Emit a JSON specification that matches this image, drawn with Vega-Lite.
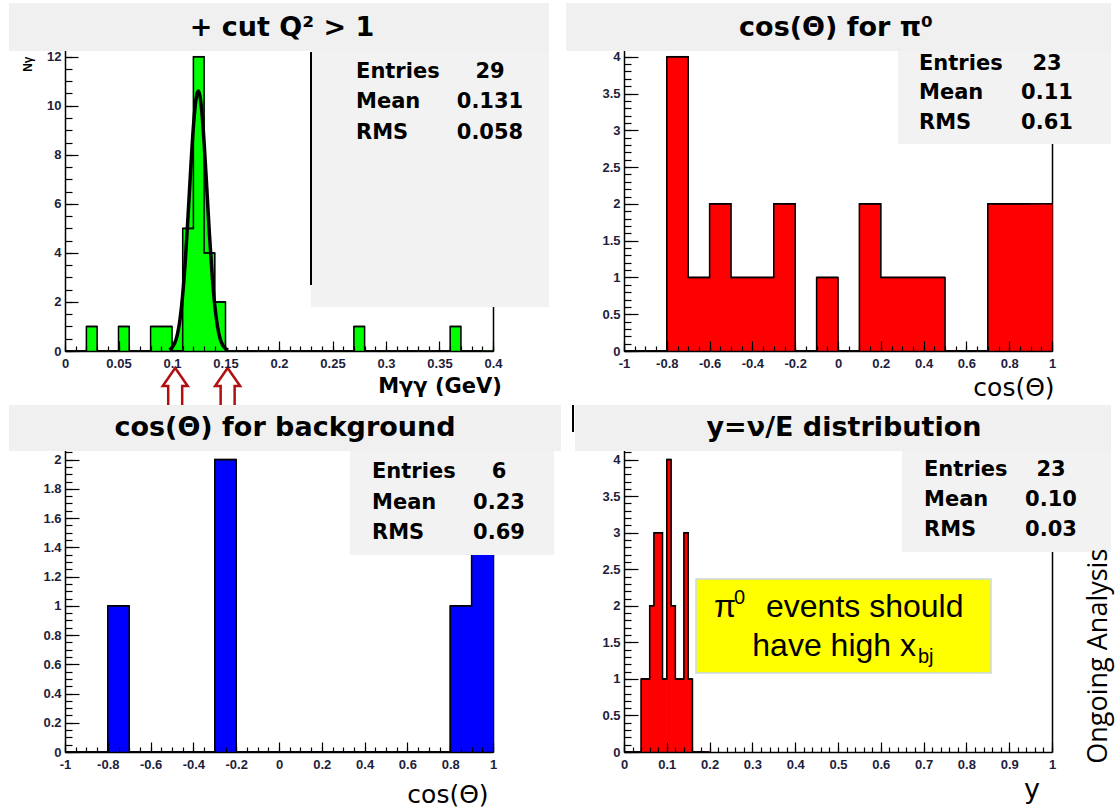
{
"$schema": "https://vega.github.io/schema/vega-lite/v6.json",
"background": "white",
"padding": {"left": 8, "top": 3, "right": 4, "bottom": 4},
"datasets": {
"tl_hist": [{"lo":0,"hi":0.01,"n":0},{"lo":0.01,"hi":0.02,"n":0},{"lo":0.02,"hi":0.03,"n":1},{"lo":0.03,"hi":0.04,"n":0},{"lo":0.04,"hi":0.05,"n":0},{"lo":0.05,"hi":0.06,"n":1},{"lo":0.06,"hi":0.07,"n":0},{"lo":0.07,"hi":0.08,"n":0},{"lo":0.08,"hi":0.09,"n":1},{"lo":0.09,"hi":0.1,"n":1},{"lo":0.1,"hi":0.11,"n":0},{"lo":0.11,"hi":0.12,"n":5},{"lo":0.12,"hi":0.13,"n":12},{"lo":0.13,"hi":0.14,"n":4},{"lo":0.14,"hi":0.15,"n":2},{"lo":0.15,"hi":0.16,"n":0},{"lo":0.16,"hi":0.17,"n":0},{"lo":0.17,"hi":0.18,"n":0},{"lo":0.18,"hi":0.19,"n":0},{"lo":0.19,"hi":0.2,"n":0},{"lo":0.2,"hi":0.21,"n":0},{"lo":0.21,"hi":0.22,"n":0},{"lo":0.22,"hi":0.23,"n":0},{"lo":0.23,"hi":0.24,"n":0},{"lo":0.24,"hi":0.25,"n":0},{"lo":0.25,"hi":0.26,"n":0},{"lo":0.26,"hi":0.27,"n":0},{"lo":0.27,"hi":0.28,"n":1},{"lo":0.28,"hi":0.29,"n":0},{"lo":0.29,"hi":0.3,"n":0},{"lo":0.3,"hi":0.31,"n":0},{"lo":0.31,"hi":0.32,"n":0},{"lo":0.32,"hi":0.33,"n":0},{"lo":0.33,"hi":0.34,"n":0},{"lo":0.34,"hi":0.35,"n":0},{"lo":0.35,"hi":0.36,"n":0},{"lo":0.36,"hi":0.37,"n":1},{"lo":0.37,"hi":0.38,"n":0},{"lo":0.38,"hi":0.39,"n":0},{"lo":0.39,"hi":0.4,"n":0}],
"tl_fit": [{"m":0.0975,"n":0.05},{"m":0.1,"n":0.14},{"m":0.1025,"n":0.32},{"m":0.105,"n":0.67},{"m":0.1075,"n":1.3},{"m":0.11,"n":2.3},{"m":0.1125,"n":3.73},{"m":0.115,"n":5.51},{"m":0.1175,"n":7.43},{"m":0.12,"n":9.15},{"m":0.1225,"n":10.3},{"m":0.1245,"n":10.6},{"m":0.1275,"n":9.93},{"m":0.13,"n":8.51},{"m":0.1325,"n":6.66},{"m":0.135,"n":4.76},{"m":0.1375,"n":3.11},{"m":0.14,"n":1.85},{"m":0.1425,"n":1.01},{"m":0.145,"n":0.5},{"m":0.1475,"n":0.23},{"m":0.15,"n":0.1},{"m":0.1525,"n":0.04}],
"tl_cuts": [{"cut":0.103},{"cut":0.152}],
"tr_hist": [{"lo":-1,"hi":-0.9,"n":0},{"lo":-0.9,"hi":-0.8,"n":0},{"lo":-0.8,"hi":-0.7,"n":4},{"lo":-0.7,"hi":-0.6,"n":1},{"lo":-0.6,"hi":-0.5,"n":2},{"lo":-0.5,"hi":-0.4,"n":1},{"lo":-0.4,"hi":-0.3,"n":1},{"lo":-0.3,"hi":-0.2,"n":2},{"lo":-0.2,"hi":-0.1,"n":0},{"lo":-0.1,"hi":0,"n":1},{"lo":0,"hi":0.1,"n":0},{"lo":0.1,"hi":0.2,"n":2},{"lo":0.2,"hi":0.3,"n":1},{"lo":0.3,"hi":0.4,"n":1},{"lo":0.4,"hi":0.5,"n":1},{"lo":0.5,"hi":0.6,"n":0},{"lo":0.6,"hi":0.7,"n":0},{"lo":0.7,"hi":0.8,"n":2},{"lo":0.8,"hi":0.9,"n":2},{"lo":0.9,"hi":1,"n":2}],
"bl_hist": [{"lo":-1,"hi":-0.9,"n":0},{"lo":-0.9,"hi":-0.8,"n":0},{"lo":-0.8,"hi":-0.7,"n":1},{"lo":-0.7,"hi":-0.6,"n":0},{"lo":-0.6,"hi":-0.5,"n":0},{"lo":-0.5,"hi":-0.4,"n":0},{"lo":-0.4,"hi":-0.3,"n":0},{"lo":-0.3,"hi":-0.2,"n":2},{"lo":-0.2,"hi":-0.1,"n":0},{"lo":-0.1,"hi":0,"n":0},{"lo":0,"hi":0.1,"n":0},{"lo":0.1,"hi":0.2,"n":0},{"lo":0.2,"hi":0.3,"n":0},{"lo":0.3,"hi":0.4,"n":0},{"lo":0.4,"hi":0.5,"n":0},{"lo":0.5,"hi":0.6,"n":0},{"lo":0.6,"hi":0.7,"n":0},{"lo":0.7,"hi":0.8,"n":0},{"lo":0.8,"hi":0.9,"n":1},{"lo":0.9,"hi":1,"n":2}],
"br_hist": [{"lo":0,"hi":0.01,"n":0},{"lo":0.01,"hi":0.02,"n":0},{"lo":0.02,"hi":0.03,"n":0},{"lo":0.03,"hi":0.04,"n":0},{"lo":0.04,"hi":0.05,"n":1},{"lo":0.05,"hi":0.06,"n":1},{"lo":0.06,"hi":0.07,"n":2},{"lo":0.07,"hi":0.08,"n":3},{"lo":0.08,"hi":0.09,"n":3},{"lo":0.09,"hi":0.1,"n":1},{"lo":0.1,"hi":0.11,"n":4},{"lo":0.11,"hi":0.12,"n":2},{"lo":0.12,"hi":0.13,"n":1},{"lo":0.13,"hi":0.14,"n":1},{"lo":0.14,"hi":0.15,"n":3},{"lo":0.15,"hi":0.16,"n":1},{"lo":0.16,"hi":0.17,"n":0},{"lo":0.17,"hi":0.18,"n":0},{"lo":0.18,"hi":0.19,"n":0},{"lo":0.19,"hi":0.2,"n":0}]
},
"columns": 2,
"spacing": {"row": 94, "column": 131},
"bounds": "flush",
"concat": [
{
"width": 428, "height": 309,
"resolve": {"axis": {"x": "independent", "y": "independent"}},
"layer": [
 {"data": {"name": "tl_fit"}, "mark": {"type": "area", "color": "#00ff00", "interpolate": "monotone"},
  "encoding": {"x": {"field": "m", "type": "quantitative", "scale": {"domain": [0, 0.4], "nice": false, "zero": false}, "axis": null},
   "y": {"field": "n", "type": "quantitative", "scale": {"domain": [0, 12.6], "nice": false, "zero": false}, "axis": null}}},
 {"data": {"name": "tl_hist"}, "mark": {"type": "rect", "color": "#00ff00", "stroke": "#00ff00", "strokeWidth": 1},
  "encoding": {"x": {"field": "lo", "type": "quantitative", "scale": {"domain": [0, 0.4], "nice": false, "zero": false},
     "axis": {"orient": "bottom", "values": [0,0.05,0.1,0.15,0.2,0.25,0.3,0.35,0.4], "format": "~g", "tickSize": -10, "labelPadding": 16, "title": null, "zindex": 1}},
   "x2": {"field": "hi"},
   "y": {"field": "n", "type": "quantitative", "scale": {"domain": [0, 12.6], "nice": false, "zero": false},
     "axis": {"orient": "left", "values": [0,2,4,6,8,10,12], "format": "~g", "tickSize": -13, "labelPadding": 17, "title": "Nγ", "titleFont": "Liberation Sans", "titleFontWeight": "bold", "titleFontSize": 12, "titleAnchor": "end", "titleAlign": "right", "titleY": 14, "titlePadding": 12, "zindex": 0}},
   "y2": {"datum": 0}}},
 {"data": {"name": "tl_hist"}, "mark": {"type": "line", "color": "#000000", "strokeWidth": 1.5, "interpolate": "step-after"},
  "encoding": {"x": {"field": "lo", "type": "quantitative", "scale": {"domain": [0, 0.4], "nice": false, "zero": false},
     "axis": {"orient": "bottom", "values": [0,0.01,0.02,0.03,0.04,0.05,0.06,0.07,0.08,0.09,0.1,0.11,0.12,0.13,0.14,0.15,0.16,0.17,0.18,0.19,0.2,0.21,0.22,0.23,0.24,0.25,0.26,0.27,0.28,0.29,0.3,0.31,0.32,0.33,0.34,0.35,0.36,0.37,0.38,0.39,0.4], "labels": false, "domain": false, "tickSize": -5, "title": null, "zindex": 1}},
   "y": {"field": "n", "type": "quantitative", "scale": {"domain": [0, 12.6], "nice": false, "zero": false},
     "axis": {"orient": "left", "values": [0,0.5,1,1.5,2,2.5,3,3.5,4,4.5,5,5.5,6,6.5,7,7.5,8,8.5,9,9.5,10,10.5,11,11.5,12,12.5], "labels": false, "domain": false, "tickSize": -7, "title": null, "zindex": 0}}}},
 {"data": {"name": "tl_hist"}, "mark": {"type": "rule", "color": "#000000", "strokeWidth": 1.5},
  "encoding": {"x": {"field": "lo", "type": "quantitative", "scale": {"domain": [0, 0.4], "nice": false, "zero": false}, "axis": null},
   "x2": {"field": "hi"},
   "y": {"field": "n", "type": "quantitative", "scale": {"domain": [0, 12.6], "nice": false, "zero": false},
     "axis": {"orient": "right", "labels": false, "ticks": false, "domain": true, "title": null, "zindex": 0}}}},
 {"data": {"name": "tl_fit"}, "mark": {"type": "line", "color": "#000000", "strokeWidth": 3.5, "interpolate": "monotone"},
  "encoding": {"x": {"field": "m", "type": "quantitative", "scale": {"domain": [0, 0.4], "nice": false, "zero": false}, "axis": null},
   "y": {"field": "n", "type": "quantitative", "scale": {"domain": [0, 12.6], "nice": false, "zero": false}, "axis": null}}},
 {"data": {"values": [{}]}, "mark": {"type": "rect", "color": "#f2f2f2"},
  "encoding": {"x": {"datum": 0.2299, "type": "quantitative", "scale": {"domain": [0, 0.4], "nice": false, "zero": false}, "axis": null}, "x2": {"datum": 0.4523},
   "y": {"datum": 12.233, "type": "quantitative", "scale": {"domain": [0, 12.6], "nice": false, "zero": false}, "axis": null}, "y2": {"datum": 1.794}}},
 {"data": {"values": [{}]}, "mark": {"type": "rule", "color": "#000000", "strokeWidth": 2},
  "encoding": {"x": {"datum": 0.2299, "type": "quantitative", "scale": {"domain": [0, 0.4], "nice": false, "zero": false}, "axis": null},
   "y": {"datum": 12.19, "type": "quantitative", "scale": {"domain": [0, 12.6], "nice": false, "zero": false}, "axis": null}, "y2": {"datum": 2.69}}},
 {"data": {"values": [{}]}, "mark": {"type": "text", "font": "DejaVu Sans", "fontWeight": "bold", "fontSize": 21, "align": "left", "baseline": "middle", "lineHeight": 30.5, "color": "#000000"},
  "encoding": {"x": {"datum": 0.272, "type": "quantitative", "scale": {"domain": [0, 0.4], "nice": false, "zero": false}, "axis": null},
   "y": {"datum": 11.377, "type": "quantitative", "scale": {"domain": [0, 12.6], "nice": false, "zero": false}, "axis": null},
   "text": {"value": ["Entries", "Mean", "RMS"]}}},
 {"data": {"values": [{}]}, "mark": {"type": "text", "font": "DejaVu Sans", "fontWeight": "bold", "fontSize": 21, "align": "center", "baseline": "middle", "lineHeight": 30.5, "color": "#000000"},
  "encoding": {"x": {"datum": 0.3972, "type": "quantitative", "scale": {"domain": [0, 0.4], "nice": false, "zero": false}, "axis": null},
   "y": {"datum": 11.377, "type": "quantitative", "scale": {"domain": [0, 12.6], "nice": false, "zero": false}, "axis": null},
   "text": {"value": ["29", "0.131", "0.058"]}}},
 {"data": {"values": [{}]}, "mark": {"type": "rect", "color": "#f0f0f0"},
  "encoding": {"x": {"datum": -0.0523, "type": "quantitative", "scale": {"domain": [0, 0.4], "nice": false, "zero": false}, "axis": null}, "x2": {"datum": 0.4523},
   "y": {"datum": 14.19, "type": "quantitative", "scale": {"domain": [0, 12.6], "nice": false, "zero": false}, "axis": null}, "y2": {"datum": 12.233}}},
 {"data": {"values": [{}]}, "mark": {"type": "text", "font": "DejaVu Sans", "fontWeight": "bold", "fontSize": 27, "align": "center", "baseline": "middle", "color": "#000000"},
  "encoding": {"x": {"datum": 0.2028, "type": "quantitative", "scale": {"domain": [0, 0.4], "nice": false, "zero": false}, "axis": null},
   "y": {"datum": 13.17, "type": "quantitative", "scale": {"domain": [0, 12.6], "nice": false, "zero": false}, "axis": null},
   "text": {"value": "+ cut Q² > 1"}}},
 {"data": {"values": [{}]}, "mark": {"type": "text", "font": "DejaVu Sans", "fontWeight": "bold", "fontSize": 21, "align": "center", "baseline": "middle", "color": "#000000"},
  "encoding": {"x": {"datum": 0.3505, "type": "quantitative", "scale": {"domain": [0, 0.4], "nice": false, "zero": false}, "axis": null},
   "y": {"datum": -1.45, "type": "quantitative", "scale": {"domain": [0, 12.6], "nice": false, "zero": false}, "axis": null},
   "text": {"value": "Mγγ (GeV)"}}},
 {"data": {"name": "tl_cuts"}, "mark": {"type": "point", "shape": "M-0.333,1L-0.333,-0.143L-0.595,-0.143L0,-1L0.595,-0.143L0.333,-0.143L0.333,1Z", "size": 1764, "filled": false, "stroke": "#b01010", "strokeWidth": 2.5, "opacity": 1},
  "encoding": {"x": {"field": "cut", "type": "quantitative", "scale": {"domain": [0, 0.4], "nice": false, "zero": false}, "axis": null},
   "y": {"datum": -1.55, "type": "quantitative", "scale": {"domain": [0, 12.6], "nice": false, "zero": false}, "axis": null}}}
]
},
{
"width": 428, "height": 309,
"resolve": {"axis": {"x": "independent", "y": "independent"}},
"layer": [
 {"data": {"name": "tr_hist"}, "mark": {"type": "rect", "color": "#ff0000", "stroke": "#ff0000", "strokeWidth": 1},
  "encoding": {"x": {"field": "lo", "type": "quantitative", "scale": {"domain": [-1, 1], "nice": false, "zero": false},
     "axis": {"orient": "bottom", "values": [-1,-0.8,-0.6,-0.4,-0.2,0,0.2,0.4,0.6,0.8,1], "format": "~g", "labelExpr": "replace(datum.label, '\u2212', '-')", "tickSize": -10, "labelPadding": 16, "title": null, "zindex": 1}},
   "x2": {"field": "hi"},
   "y": {"field": "n", "type": "quantitative", "scale": {"domain": [0, 4.2], "nice": false, "zero": false},
     "axis": {"orient": "left", "values": [0,0.5,1,1.5,2,2.5,3,3.5,4], "format": "~g", "tickSize": -14, "labelPadding": 18, "title": null, "zindex": 0}},
   "y2": {"datum": 0}}},
 {"data": {"name": "tr_hist"}, "mark": {"type": "line", "color": "#000000", "strokeWidth": 1.5, "interpolate": "step-after"},
  "encoding": {"x": {"field": "lo", "type": "quantitative", "scale": {"domain": [-1, 1], "nice": false, "zero": false},
     "axis": {"orient": "bottom", "values": [-1,-0.95,-0.9,-0.85,-0.8,-0.75,-0.7,-0.65,-0.6,-0.55,-0.5,-0.45,-0.4,-0.35,-0.3,-0.25,-0.2,-0.15,-0.1,-0.05,0,0.05,0.1,0.15,0.2,0.25,0.3,0.35,0.4,0.45,0.5,0.55,0.6,0.65,0.7,0.75,0.8,0.85,0.9,0.95,1], "labels": false, "domain": false, "tickSize": -5, "title": null, "zindex": 1}},
   "y": {"field": "n", "type": "quantitative", "scale": {"domain": [0, 4.2], "nice": false, "zero": false},
     "axis": {"orient": "left", "values": [0,0.1,0.2,0.3,0.4,0.5,0.6,0.7,0.8,0.9,1,1.1,1.2,1.3,1.4,1.5,1.6,1.7,1.8,1.9,2,2.1,2.2,2.3,2.4,2.5,2.6,2.7,2.8,2.9,3,3.1,3.2,3.3,3.4,3.5,3.6,3.7,3.8,3.9,4,4.1,4.2], "labels": false, "domain": false, "tickSize": -7, "title": null, "zindex": 0}}}},
 {"data": {"name": "tr_hist"}, "mark": {"type": "rule", "color": "#000000", "strokeWidth": 1.5},
  "encoding": {"x": {"field": "lo", "type": "quantitative", "scale": {"domain": [-1, 1], "nice": false, "zero": false}, "axis": null},
   "x2": {"field": "hi"},
   "y": {"field": "n", "type": "quantitative", "scale": {"domain": [0, 4.2], "nice": false, "zero": false},
     "axis": {"orient": "right", "labels": false, "ticks": false, "domain": true, "title": null, "zindex": 0}}}},
 {"data": {"values": [{}]}, "mark": {"type": "rect", "color": "#f2f2f2"},
  "encoding": {"x": {"datum": 0.2804, "type": "quantitative", "scale": {"domain": [-1, 1], "nice": false, "zero": false}, "axis": null}, "x2": {"datum": 1.2757},
   "y": {"datum": 4.078, "type": "quantitative", "scale": {"domain": [0, 4.2], "nice": false, "zero": false}, "axis": null}, "y2": {"datum": 2.8136}}},
 {"data": {"values": [{}]}, "mark": {"type": "text", "font": "DejaVu Sans", "fontWeight": "bold", "fontSize": 21, "align": "left", "baseline": "middle", "lineHeight": 29.5, "color": "#000000"},
  "encoding": {"x": {"datum": 0.3785, "type": "quantitative", "scale": {"domain": [-1, 1], "nice": false, "zero": false}, "axis": null},
   "y": {"datum": 3.901, "type": "quantitative", "scale": {"domain": [0, 4.2], "nice": false, "zero": false}, "axis": null},
   "text": {"value": ["Entries", "Mean", "RMS"]}}},
 {"data": {"values": [{}]}, "mark": {"type": "text", "font": "DejaVu Sans", "fontWeight": "bold", "fontSize": 21, "align": "center", "baseline": "middle", "lineHeight": 29.5, "color": "#000000"},
  "encoding": {"x": {"datum": 0.9766, "type": "quantitative", "scale": {"domain": [-1, 1], "nice": false, "zero": false}, "axis": null},
   "y": {"datum": 3.901, "type": "quantitative", "scale": {"domain": [0, 4.2], "nice": false, "zero": false}, "axis": null},
   "text": {"value": ["23", "0.11", "0.61"]}}},
 {"data": {"values": [{}]}, "mark": {"type": "rect", "color": "#f0f0f0"},
  "encoding": {"x": {"datum": -1.271, "type": "quantitative", "scale": {"domain": [-1, 1], "nice": false, "zero": false}, "axis": null}, "x2": {"datum": 1.2757},
   "y": {"datum": 4.73, "type": "quantitative", "scale": {"domain": [0, 4.2], "nice": false, "zero": false}, "axis": null}, "y2": {"datum": 4.078}}},
 {"data": {"values": [{}]}, "mark": {"type": "text", "font": "DejaVu Sans", "fontWeight": "bold", "fontSize": 27, "align": "center", "baseline": "middle", "color": "#000000"},
  "encoding": {"x": {"datum": -0.0093, "type": "quantitative", "scale": {"domain": [-1, 1], "nice": false, "zero": false}, "axis": null},
   "y": {"datum": 4.39, "type": "quantitative", "scale": {"domain": [0, 4.2], "nice": false, "zero": false}, "axis": null},
   "text": {"value": "cos(Θ) for π⁰"}}},
 {"data": {"values": [{}]}, "mark": {"type": "text", "font": "DejaVu Sans", "fontSize": 25, "align": "center", "baseline": "middle", "color": "#000000"},
  "encoding": {"x": {"datum": 0.8224, "type": "quantitative", "scale": {"domain": [-1, 1], "nice": false, "zero": false}, "axis": null},
   "y": {"datum": -0.503, "type": "quantitative", "scale": {"domain": [0, 4.2], "nice": false, "zero": false}, "axis": null},
   "text": {"value": "cos(Θ)"}}}
]
},
{
"width": 428, "height": 307,
"resolve": {"axis": {"x": "independent", "y": "independent"}},
"layer": [
 {"data": {"name": "bl_hist"}, "mark": {"type": "rect", "color": "#0000ff", "stroke": "#0000ff", "strokeWidth": 1},
  "encoding": {"x": {"field": "lo", "type": "quantitative", "scale": {"domain": [-1, 1], "nice": false, "zero": false},
     "axis": {"orient": "bottom", "values": [-1,-0.8,-0.6,-0.4,-0.2,0,0.2,0.4,0.6,0.8,1], "format": "~g", "labelExpr": "replace(datum.label, '\u2212', '-')", "tickSize": -10, "labelPadding": 16, "title": null, "zindex": 1}},
   "x2": {"field": "hi"},
   "y": {"field": "n", "type": "quantitative", "scale": {"domain": [0, 2.1], "nice": false, "zero": false},
     "axis": {"orient": "left", "values": [0,0.2,0.4,0.6,0.8,1,1.2,1.4,1.6,1.8,2], "format": "~g", "tickSize": -14, "labelPadding": 18, "title": null, "zindex": 0}},
   "y2": {"datum": 0}}},
 {"data": {"name": "bl_hist"}, "mark": {"type": "line", "color": "#000000", "strokeWidth": 1.5, "interpolate": "step-after"},
  "encoding": {"x": {"field": "lo", "type": "quantitative", "scale": {"domain": [-1, 1], "nice": false, "zero": false},
     "axis": {"orient": "bottom", "values": [-1,-0.95,-0.9,-0.85,-0.8,-0.75,-0.7,-0.65,-0.6,-0.55,-0.5,-0.45,-0.4,-0.35,-0.3,-0.25,-0.2,-0.15,-0.1,-0.05,0,0.05,0.1,0.15,0.2,0.25,0.3,0.35,0.4,0.45,0.5,0.55,0.6,0.65,0.7,0.75,0.8,0.85,0.9,0.95,1], "labels": false, "domain": false, "tickSize": -5, "title": null, "zindex": 1}},
   "y": {"field": "n", "type": "quantitative", "scale": {"domain": [0, 2.1], "nice": false, "zero": false},
     "axis": {"orient": "left", "values": [0,0.05,0.1,0.15,0.2,0.25,0.3,0.35,0.4,0.45,0.5,0.55,0.6,0.65,0.7,0.75,0.8,0.85,0.9,0.95,1,1.05,1.1,1.15,1.2,1.25,1.3,1.35,1.4,1.45,1.5,1.55,1.6,1.65,1.7,1.75,1.8,1.85,1.9,1.95,2,2.05,2.1], "labels": false, "domain": false, "tickSize": -7, "title": null, "zindex": 0}}}},
 {"data": {"name": "bl_hist"}, "mark": {"type": "rule", "color": "#000000", "strokeWidth": 1.5},
  "encoding": {"x": {"field": "lo", "type": "quantitative", "scale": {"domain": [-1, 1], "nice": false, "zero": false}, "axis": null},
   "x2": {"field": "hi"},
   "y": {"field": "n", "type": "quantitative", "scale": {"domain": [0, 2.1], "nice": false, "zero": false},
     "axis": {"orient": "right", "labels": false, "ticks": false, "domain": true, "title": null, "zindex": 0}}}},
 {"data": {"values": [{}]}, "mark": {"type": "rect", "color": "#f2f2f2"},
  "encoding": {"x": {"datum": 0.3318, "type": "quantitative", "scale": {"domain": [-1, 1], "nice": false, "zero": false}, "axis": null}, "x2": {"datum": 1.285},
   "y": {"datum": 2.059, "type": "quantitative", "scale": {"domain": [0, 2.1], "nice": false, "zero": false}, "axis": null}, "y2": {"datum": 1.3476}}},
 {"data": {"values": [{}]}, "mark": {"type": "text", "font": "DejaVu Sans", "fontWeight": "bold", "fontSize": 21, "align": "left", "baseline": "middle", "lineHeight": 30.5, "color": "#000000"},
  "encoding": {"x": {"datum": 0.4346, "type": "quantitative", "scale": {"domain": [-1, 1], "nice": false, "zero": false}, "axis": null},
   "y": {"datum": 1.9153, "type": "quantitative", "scale": {"domain": [0, 2.1], "nice": false, "zero": false}, "axis": null},
   "text": {"value": ["Entries", "Mean", "RMS"]}}},
 {"data": {"values": [{}]}, "mark": {"type": "text", "font": "DejaVu Sans", "fontWeight": "bold", "fontSize": 21, "align": "center", "baseline": "middle", "lineHeight": 30.5, "color": "#000000"},
  "encoding": {"x": {"datum": 1.028, "type": "quantitative", "scale": {"domain": [-1, 1], "nice": false, "zero": false}, "axis": null},
   "y": {"datum": 1.9153, "type": "quantitative", "scale": {"domain": [0, 2.1], "nice": false, "zero": false}, "axis": null},
   "text": {"value": ["6", "0.23", "0.69"]}}},
 {"data": {"values": [{}]}, "mark": {"type": "rect", "color": "#f0f0f0"},
  "encoding": {"x": {"datum": -1.2617, "type": "quantitative", "scale": {"domain": [-1, 1], "nice": false, "zero": false}, "axis": null}, "x2": {"datum": 1.3178},
   "y": {"datum": 2.3736, "type": "quantitative", "scale": {"domain": [0, 2.1], "nice": false, "zero": false}, "axis": null}, "y2": {"datum": 2.059}}},
 {"data": {"values": [{}]}, "mark": {"type": "text", "font": "DejaVu Sans", "fontWeight": "bold", "fontSize": 27, "align": "center", "baseline": "middle", "color": "#000000"},
  "encoding": {"x": {"datum": 0.028, "type": "quantitative", "scale": {"domain": [-1, 1], "nice": false, "zero": false}, "axis": null},
   "y": {"datum": 2.2163, "type": "quantitative", "scale": {"domain": [0, 2.1], "nice": false, "zero": false}, "axis": null},
   "text": {"value": "cos(Θ) for background"}}},
 {"data": {"values": [{}]}, "mark": {"type": "text", "font": "DejaVu Sans", "fontSize": 25, "align": "center", "baseline": "middle", "color": "#000000"},
  "encoding": {"x": {"datum": 0.7897, "type": "quantitative", "scale": {"domain": [-1, 1], "nice": false, "zero": false}, "axis": null},
   "y": {"datum": -0.2941, "type": "quantitative", "scale": {"domain": [0, 2.1], "nice": false, "zero": false}, "axis": null},
   "text": {"value": "cos(Θ)"}}}
]
},
{
"width": 428, "height": 307,
"resolve": {"axis": {"x": "independent", "y": "independent"}},
"layer": [
 {"data": {"name": "br_hist"}, "mark": {"type": "rect", "color": "#ff0000", "stroke": "#ff0000", "strokeWidth": 1},
  "encoding": {"x": {"field": "lo", "type": "quantitative", "scale": {"domain": [0, 1], "nice": false, "zero": false},
     "axis": {"orient": "bottom", "values": [0,0.1,0.2,0.3,0.4,0.5,0.6,0.7,0.8,0.9,1], "format": "~g", "tickSize": -10, "labelPadding": 16, "title": null, "zindex": 1}},
   "x2": {"field": "hi"},
   "y": {"field": "n", "type": "quantitative", "scale": {"domain": [0, 4.2], "nice": false, "zero": false},
     "axis": {"orient": "left", "values": [0,0.5,1,1.5,2,2.5,3,3.5,4], "format": "~g", "tickSize": -14, "labelPadding": 18, "title": null, "zindex": 0}},
   "y2": {"datum": 0}}},
 {"data": {"name": "br_hist"}, "mark": {"type": "line", "color": "#000000", "strokeWidth": 1.5, "interpolate": "step-after"},
  "encoding": {"x": {"field": "lo", "type": "quantitative", "scale": {"domain": [0, 1], "nice": false, "zero": false},
     "axis": {"orient": "bottom", "values": [0,0.02,0.04,0.06,0.08,0.1,0.12,0.14,0.16,0.18,0.2,0.22,0.24,0.26,0.28,0.3,0.32,0.34,0.36,0.38,0.4,0.42,0.44,0.46,0.48,0.5,0.52,0.54,0.56,0.58,0.6,0.62,0.64,0.66,0.68,0.7,0.72,0.74,0.76,0.78,0.8,0.82,0.84,0.86,0.88,0.9,0.92,0.94,0.96,0.98,1], "labels": false, "domain": false, "tickSize": -5, "title": null, "zindex": 1}},
   "y": {"field": "n", "type": "quantitative", "scale": {"domain": [0, 4.2], "nice": false, "zero": false},
     "axis": {"orient": "left", "values": [0,0.1,0.2,0.3,0.4,0.5,0.6,0.7,0.8,0.9,1,1.1,1.2,1.3,1.4,1.5,1.6,1.7,1.8,1.9,2,2.1,2.2,2.3,2.4,2.5,2.6,2.7,2.8,2.9,3,3.1,3.2,3.3,3.4,3.5,3.6,3.7,3.8,3.9,4,4.1,4.2], "labels": false, "domain": false, "tickSize": -7, "title": null, "zindex": 0}}}},
 {"data": {"name": "br_hist"}, "mark": {"type": "rule", "color": "#000000", "strokeWidth": 1.5},
  "encoding": {"x": {"field": "lo", "type": "quantitative", "scale": {"domain": [0, 1], "nice": false, "zero": false}, "axis": null},
   "x2": {"field": "hi"},
   "y": {"field": "n", "type": "quantitative", "scale": {"domain": [0, 4.2], "nice": false, "zero": false},
     "axis": {"orient": "right", "labels": false, "ticks": false, "domain": true, "title": null, "zindex": 0}}}},
 {"data": {"values": [{}]}, "mark": {"type": "rect", "color": "#f2f2f2"},
  "encoding": {"x": {"datum": 0.6495, "type": "quantitative", "scale": {"domain": [0, 1], "nice": false, "zero": false}, "axis": null}, "x2": {"datum": 1.1379},
   "y": {"datum": 4.1316, "type": "quantitative", "scale": {"domain": [0, 4.2], "nice": false, "zero": false}, "axis": null}, "y2": {"datum": 2.7362}}},
 {"data": {"values": [{}]}, "mark": {"type": "text", "font": "DejaVu Sans", "fontWeight": "bold", "fontSize": 21, "align": "left", "baseline": "middle", "lineHeight": 30, "color": "#000000"},
  "encoding": {"x": {"datum": 0.7009, "type": "quantitative", "scale": {"domain": [0, 1], "nice": false, "zero": false}, "axis": null},
   "y": {"datum": 3.858, "type": "quantitative", "scale": {"domain": [0, 4.2], "nice": false, "zero": false}, "axis": null},
   "text": {"value": ["Entries", "Mean", "RMS"]}}},
 {"data": {"values": [{}]}, "mark": {"type": "text", "font": "DejaVu Sans", "fontWeight": "bold", "fontSize": 21, "align": "center", "baseline": "middle", "lineHeight": 30, "color": "#000000"},
  "encoding": {"x": {"datum": 0.9977, "type": "quantitative", "scale": {"domain": [0, 1], "nice": false, "zero": false}, "axis": null},
   "y": {"datum": 3.858, "type": "quantitative", "scale": {"domain": [0, 4.2], "nice": false, "zero": false}, "axis": null},
   "text": {"value": ["23", "0.10", "0.03"]}}},
 {"data": {"values": [{}]}, "mark": {"type": "rect", "color": "#f0f0f0"},
  "encoding": {"x": {"datum": -0.1145, "type": "quantitative", "scale": {"domain": [0, 1], "nice": false, "zero": false}, "axis": null}, "x2": {"datum": 1.1379},
   "y": {"datum": 4.7472, "type": "quantitative", "scale": {"domain": [0, 4.2], "nice": false, "zero": false}, "axis": null}, "y2": {"datum": 4.118}}},
 {"data": {"values": [{}]}, "mark": {"type": "rule", "color": "#000000", "strokeWidth": 2},
  "encoding": {"x": {"datum": -0.1192, "type": "quantitative", "scale": {"domain": [0, 1], "nice": false, "zero": false}, "axis": null},
   "y": {"datum": 4.747, "type": "quantitative", "scale": {"domain": [0, 4.2], "nice": false, "zero": false}, "axis": null}, "y2": {"datum": 4.378}}},
 {"data": {"values": [{}]}, "mark": {"type": "text", "font": "DejaVu Sans", "fontWeight": "bold", "fontSize": 27, "align": "center", "baseline": "middle", "color": "#000000"},
  "encoding": {"x": {"datum": 0.514, "type": "quantitative", "scale": {"domain": [0, 1], "nice": false, "zero": false}, "axis": null},
   "y": {"datum": 4.4326, "type": "quantitative", "scale": {"domain": [0, 4.2], "nice": false, "zero": false}, "axis": null},
   "text": {"value": "y=ν/E distribution"}}},
 {"data": {"values": [{}]}, "mark": {"type": "rect", "color": "#ffff00", "stroke": "#c8d8e8", "strokeWidth": 1.5},
  "encoding": {"x": {"datum": 0.1682, "type": "quantitative", "scale": {"domain": [0, 1], "nice": false, "zero": false}, "axis": null}, "x2": {"datum": 0.8575},
   "y": {"datum": 2.3668, "type": "quantitative", "scale": {"domain": [0, 4.2], "nice": false, "zero": false}, "axis": null}, "y2": {"datum": 1.0808}}},
 {"data": {"values": [{}]}, "mark": {"type": "text", "font": "Liberation Sans", "fontSize": 32, "align": "left", "baseline": "middle", "color": "#000000"},
  "encoding": {"x": {"datum": 0.2103, "type": "quantitative", "scale": {"domain": [0, 1], "nice": false, "zero": false}, "axis": null},
   "y": {"datum": 1.9837, "type": "quantitative", "scale": {"domain": [0, 4.2], "nice": false, "zero": false}, "axis": null},
   "text": {"value": "π"}}},
 {"data": {"values": [{}]}, "mark": {"type": "text", "font": "Liberation Sans", "fontSize": 20, "align": "left", "baseline": "middle", "color": "#000000"},
  "encoding": {"x": {"datum": 0.257, "type": "quantitative", "scale": {"domain": [0, 1], "nice": false, "zero": false}, "axis": null},
   "y": {"datum": 2.1068, "type": "quantitative", "scale": {"domain": [0, 4.2], "nice": false, "zero": false}, "axis": null},
   "text": {"value": "0"}}},
 {"data": {"values": [{}]}, "mark": {"type": "text", "font": "Liberation Sans", "fontSize": 32, "align": "left", "baseline": "middle", "color": "#000000"},
  "encoding": {"x": {"datum": 0.3318, "type": "quantitative", "scale": {"domain": [0, 1], "nice": false, "zero": false}, "axis": null},
   "y": {"datum": 1.9837, "type": "quantitative", "scale": {"domain": [0, 4.2], "nice": false, "zero": false}, "axis": null},
   "text": {"value": "events should"}}},
 {"data": {"values": [{}]}, "mark": {"type": "text", "font": "Liberation Sans", "fontSize": 32, "align": "right", "baseline": "middle", "color": "#000000"},
  "encoding": {"x": {"datum": 0.6822, "type": "quantitative", "scale": {"domain": [0, 1], "nice": false, "zero": false}, "axis": null},
   "y": {"datum": 1.457, "type": "quantitative", "scale": {"domain": [0, 4.2], "nice": false, "zero": false}, "axis": null},
   "text": {"value": "have high x"}}},
 {"data": {"values": [{}]}, "mark": {"type": "text", "font": "Liberation Sans", "fontSize": 20, "align": "left", "baseline": "middle", "color": "#000000"},
  "encoding": {"x": {"datum": 0.6869, "type": "quantitative", "scale": {"domain": [0, 1], "nice": false, "zero": false}, "axis": null},
   "y": {"datum": 1.2997, "type": "quantitative", "scale": {"domain": [0, 4.2], "nice": false, "zero": false}, "axis": null},
   "text": {"value": "bj"}}},
 {"data": {"values": [{}]}, "mark": {"type": "text", "font": "DejaVu Sans", "fontSize": 27, "align": "center", "baseline": "middle", "color": "#000000"},
  "encoding": {"x": {"datum": 0.9533, "type": "quantitative", "scale": {"domain": [0, 1], "nice": false, "zero": false}, "axis": null},
   "y": {"datum": -0.52, "type": "quantitative", "scale": {"domain": [0, 4.2], "nice": false, "zero": false}, "axis": null},
   "text": {"value": "y"}}},
 {"data": {"values": [{}]}, "mark": {"type": "text", "font": "Open Sans", "fontSize": 27, "angle": 270, "align": "center", "baseline": "middle", "color": "#000000"},
  "encoding": {"x": {"datum": 1.1098, "type": "quantitative", "scale": {"domain": [0, 1], "nice": false, "zero": false}, "axis": null},
   "y": {"datum": 1.31, "type": "quantitative", "scale": {"domain": [0, 4.2], "nice": false, "zero": false}, "axis": null},
   "text": {"value": "Ongoing Analysis"}}}
]
}
],
"config": {
 "view": {"stroke": null},
 "axis": {"grid": false, "domainColor": "#000000", "domainWidth": 1.5, "tickColor": "#000000", "tickWidth": 1.2,
  "labelFont": "Liberation Sans", "labelFontWeight": "bold", "labelFontSize": 13, "labelColor": "#1e1e3c",
  "labelFlush": false, "labelOverlap": false, "labelBound": false}
}
}
